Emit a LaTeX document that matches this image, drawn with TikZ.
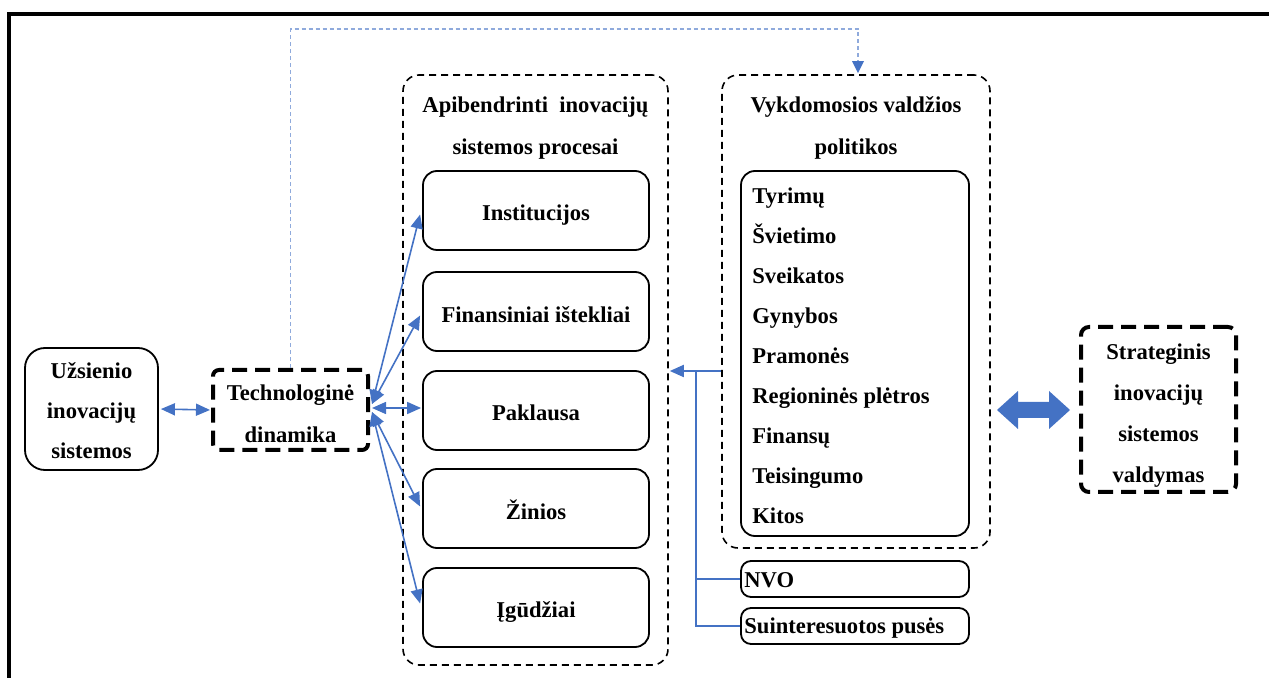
\documentclass[tikz,border=0pt]{standalone}
\usepackage{fontspec}
\setmainfont{Liberation Serif}
\usetikzlibrary{arrows.meta,calc}
\definecolor{linkblue}{HTML}{4472C4}
\definecolor{dotblue}{HTML}{8FAADC}

\begin{document}
\begin{tikzpicture}[x=0.5pt,y=-0.5pt,
  every node/.style={font=\fontsize{11.3}{20}\selectfont\bfseries, inner sep=0pt},
  solidbox/.style={draw, line width=0.9pt, rounded corners=7pt},
  groupbox/.style={draw, line width=0.8pt, dash pattern=on 3.5pt off 2.5pt, rounded corners=8pt},
  heavybox/.style={draw, line width=2pt, dash pattern=on 7.5pt off 4pt, rounded corners=3pt},
  tip/.tip={Triangle[length=7pt,width=6pt]},
  link/.style={linkblue, line width=0.8pt},
  biarrow/.style={link, {tip}-{tip}},
  titletext/.style={align=center, font=\fontsize{11.3}{21}\selectfont\bfseries}]

\useasboundingbox (0,0) rectangle (1269,678);

% outer frame
\draw[line width=2pt, line join=miter] (9,680) -- (9,14) -- (1271,14);

% left column
\node[solidbox, rounded corners=10pt, minimum width=66.5pt, minimum height=61pt] (Uzs) at (91.5,409) {};
\node[align=center] (UzsT) at (91.5,411) {Užsienio\\inovacijų\\sistemos};
\node[heavybox, minimum width=77.5pt, minimum height=40pt] (Tech) at (290.5,410) {};
\node[titletext] (TechT) at (290.5,414) {Technologinė\\dinamika};

% generalised processes
\node[groupbox, minimum width=132.5pt, minimum height=295pt] (Apib) at (535.5,370) {};
\node[titletext] (ApibT) at (535.5,128) {Apibendrinti\ \ inovacijų\\sistemos procesai};
\node[solidbox, minimum width=113pt, minimum height=39.5pt] (Inst) at (536,210.5) {};
\node[solidbox, minimum width=113pt, minimum height=39.5pt] (Fin)  at (536,311.5) {};
\node[solidbox, minimum width=113pt, minimum height=39.5pt] (Pak)  at (536,410.5) {};
\node[solidbox, minimum width=113pt, minimum height=39.5pt] (Zin)  at (536,508.5) {};
\node[solidbox, minimum width=113pt, minimum height=39.5pt] (Igu)  at (536,607.5) {};
\node (InstT) at ($(Inst)+(0,5)$) {Institucijos};
\node (FinT)  at ($(Fin)+(0,3)$)  {Finansiniai ištekliai};
\node (PakT)  at ($(Pak)+(0,2)$)  {Paklausa};
\node (ZinT)  at ($(Zin)+(0,1)$)  {Žinios};
\node (IguT)  at ($(Igu)+(0,5)$)  {Įgūdžiai};

% executive policies
\node[groupbox, minimum width=134pt, minimum height=236.5pt] (Vyk) at (856,311.5) {};
\node[titletext] (VykT) at (856,128) {Vykdomosios valdžios\\politikos};
\node[solidbox, minimum width=114pt, minimum height=182.5pt] (List) at (855,353.5) {};
\node[anchor=west, align=left] (ListT) at (752,356)
  {Tyrimų\\Švietimo\\Sveikatos\\Gynybos\\Pramonės\\Regioninės plėtros\\Finansų\\Teisingumo\\Kitos};
\node[solidbox, rounded corners=5pt, minimum width=114pt, minimum height=18pt] (NVO) at (855,579) {};
\node[anchor=west] (NVOT) at (744,580) {NVO};
\node[solidbox, rounded corners=5pt, minimum width=114pt, minimum height=18pt] (Sui) at (855,626) {};
\node[anchor=west] (SuiT) at (744,628) {Suinteresuotos pusės};

% strategic management
\node[heavybox, rounded corners=4pt, minimum width=77.5pt, minimum height=82.5pt] (Str) at (1158.5,409.5) {};
\node[align=center, font=\fontsize{11.3}{20.5}\selectfont\bfseries]
  (StrT) at (1158.5,415.5) {Strateginis\\inovacijų\\sistemos\\valdymas};

% connectors
\draw[biarrow, shorten <=1pt, shorten >=0.5pt] (Uzs.east) -- (Tech.west);

\coordinate (hubU) at ($(Tech.east)+(2,-6)$);
\coordinate (hubM) at ($(Tech.east)+(2,-2)$);
\coordinate (hubL) at ($(Tech.east)+(2,2)$);
\draw[biarrow] (hubU) -- ($(Inst.west)+(-2,4)$);
\draw[biarrow] (hubU) -- ($(Fin.west)+(-2,4)$);
\draw[biarrow] (hubM) -- ($(Pak.west |- hubM)+(-1,0)$);
\draw[biarrow] (hubL) -- ($(Zin.west)+(-2,-2)$);
\draw[biarrow] (hubL) -- ($(Igu.west)+(-2,-4)$);

% feedback from technology to policies
\draw[dotblue, line width=0.6pt, dash pattern=on 2pt off 1.5pt]
  (Tech.north) -- ++(0,-339) -| ($(Vyk.north)+(2,-12)$);
\fill[linkblue] ($(Vyk.north)+(2,-1)$) -- ++(-6,-12) -- ++(12,0) -- cycle;

% policies feed the processes; NGOs and stakeholders join in
\coordinate (join) at (696,371);
\draw[link, line width=0.9pt, -{tip}] (Vyk.west |- join) -- ($(Apib.east |- join)+(1,0)$);
\draw[link, line width=0.9pt] (join) |- (NVO.west);
\draw[link, line width=0.9pt] (join) |- (Sui.west);

% two-way block arrow to strategic management
\fill[linkblue] ($(Str.west)+(-9,0.5)$) -- ++(-21,-19) -- ++(0,11) -- ++(-31,0) -- ++(0,-11)
  -- ++(-21,19) -- ++(21,19) -- ++(0,-11) -- ++(31,0) -- ++(0,11) -- cycle;

\end{tikzpicture}
\end{document}
